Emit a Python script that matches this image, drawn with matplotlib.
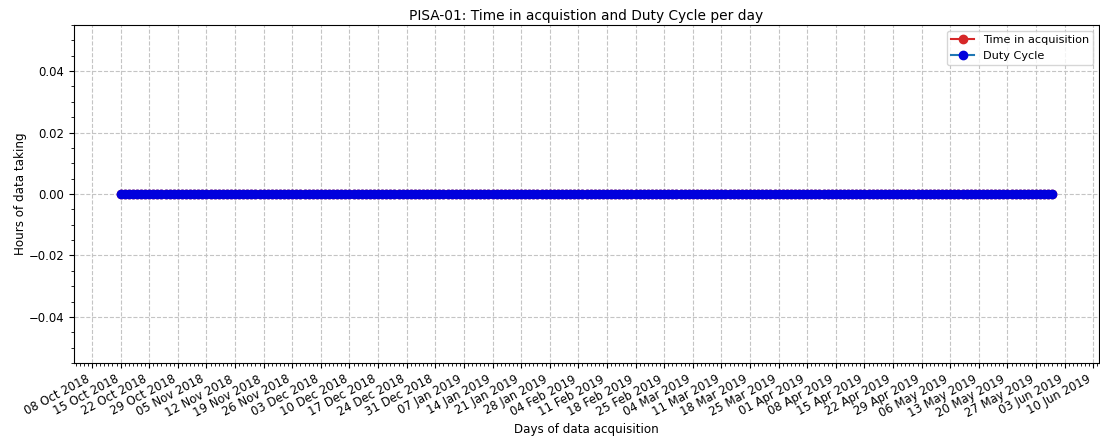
import matplotlib
matplotlib.use("Agg")
import matplotlib.pyplot as plt
import matplotlib.dates as mdates
import numpy as np
import pandas as pd

# Data
start_date = "2018-10-15"
end_date = "2019-05-31"
days = pd.date_range(start_date, end_date, freq="D")
time_in_acquisition = [0.0] * len(days)
duty_cycle = [0.0] * len(days)

title = "PISA-01: Time in acquistion and Duty Cycle per day"
xlabel = "Days of data acquisition"
ylabel = "Hours of data taking"

fig = plt.figure(figsize=(11, 4.36), dpi=100)
ax = fig.add_axes([0.0673, 0.1674, 0.9318, 0.7753])

ax.plot(days, time_in_acquisition, "o-", color="#d62728", markerfacecolor="#d62728",
        markeredgecolor="#d62728", label="Time in acquisition")
ax.plot(days, duty_cycle, "o-", color="#1f77b4", markerfacecolor="#0000dd",
        markeredgecolor="#0000dd", label="Duty Cycle")

ax.xaxis.set_major_locator(mdates.WeekdayLocator(byweekday=mdates.MO))
ax.xaxis.set_minor_locator(mdates.DayLocator())
ax.xaxis.set_major_formatter(mdates.DateFormatter("%d %b %Y"))
ax.yaxis.set_minor_locator(matplotlib.ticker.AutoMinorLocator())

ax.grid(True, which="major", linestyle="--", color="#c4c4c4", linewidth=0.8)
ax.tick_params(labelsize=8.4)
for lbl in ax.get_xticklabels():
    lbl.set_rotation(28)
    lbl.set_ha("right")

ax.set_title(title, fontsize=9.9, pad=3.5)
ax.set_xlabel(xlabel, fontsize=8.6)
ax.xaxis.set_label_coords(0.5, -0.176)
ax.set_ylabel(ylabel, fontsize=8.6, labelpad=1.5)
ax.legend(loc="upper right", fontsize=8.1)

fig.savefig("out.png", dpi=100)
